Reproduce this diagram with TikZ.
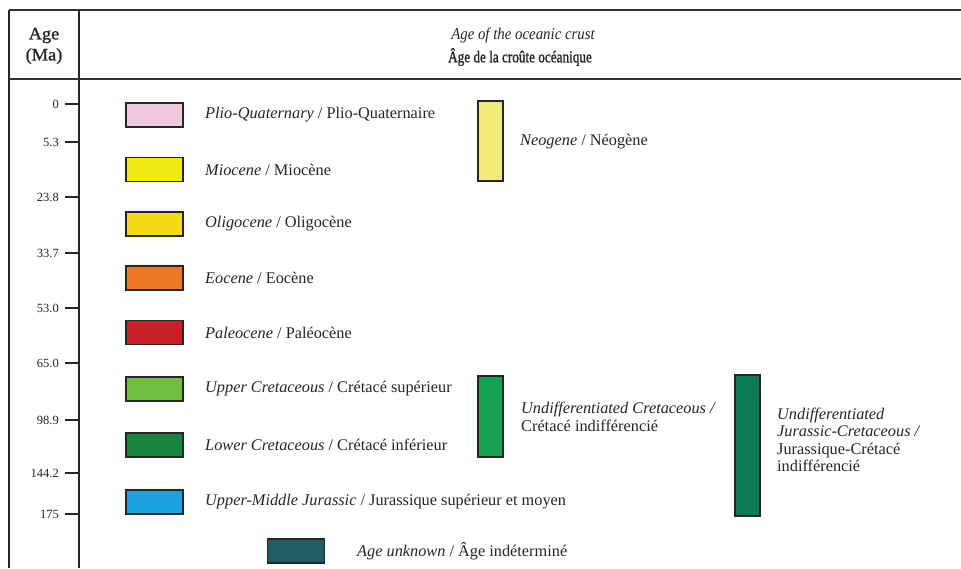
\documentclass[tikz,border=0pt]{standalone}
\usepackage{fontspec}
\setmainfont{Liberation Serif}
\begin{document}
\begin{tikzpicture}[x=1pt,y=-1pt,
  frame/.style={draw=black!85, line width=1.5pt},
  hline/.style={draw=black!80, line width=2pt},
  tickline/.style={draw=black!85, line width=1.1pt},
  ticklabel/.style={anchor=east, font=\fontsize{12.5}{13}\selectfont, text=black!85, inner sep=0pt},
  swatch/.style={draw=black!85, line width=1.1pt, minimum width=57pt, minimum height=24pt, inner sep=0pt},
  bar/.style={draw=black!85, line width=1.1pt, minimum width=25pt, inner sep=0pt},
  lab/.style={anchor=west, font=\fontsize{16.3}{17}\selectfont, text=black!85, inner sep=0pt},
  mlab/.style={anchor=west, align=left, font=\fontsize{16.3}{17.5}\selectfont, text=black!85, inner sep=0pt},
  agehead/.style={align=center, font=\fontsize{17.5}{21}\selectfont\addfontfeature{FakeBold=1.2,FakeStretch=1.05}, text=black!85, inner sep=0pt},
  head/.style={align=center, text=black!85, inner sep=0pt}]
\definecolor{cPQ}{RGB}{242,200,222}
\definecolor{cMio}{RGB}{242,232,20}
\definecolor{cOli}{RGB}{246,218,22}
\definecolor{cEoc}{RGB}{238,120,40}
\definecolor{cPal}{RGB}{200,32,42}
\definecolor{cUC}{RGB}{112,190,62}
\definecolor{cLC}{RGB}{22,130,62}
\definecolor{cJur}{RGB}{30,162,222}
\definecolor{cNeo}{RGB}{240,234,120}
\definecolor{cUCr}{RGB}{22,160,82}
\definecolor{cJC}{RGB}{12,122,82}
\definecolor{cUnk}{RGB}{32,92,100}
\useasboundingbox (0,0) rectangle (961,568);
\fill[white] (0,0) rectangle (961,568);
% frame
\draw[hline] (9,10) -- (961,10);
\draw[hline] (9,79) -- (961,79);
\draw[frame] (9,10) -- (9,568);
\draw[frame] (79,10) -- (79,568);
% header
\node[agehead] (hAge) at (44,46) {Age\\(Ma)};
\node[head, font=\fontsize{16.5}{16}\selectfont\itshape\addfontfeature{FakeStretch=0.9}] (hTitle1) at (523,35) {Age of the oceanic crust};
\node[head, font=\fontsize{16.5}{16}\selectfont\addfontfeature{FakeBold=1.2,FakeStretch=0.8}] (hTitle2) at (520,57) {Âge de la croûte océanique};
% ticks
\foreach \v/\yy/\nm in {0/104/t0, 5.3/142/t1, 23.8/197/t2, 33.7/253/t3, 53.0/308/t4, 65.0/363/t5, 98.9/420/t6, 144.2/473/t7, 175/514/t8}{
  \coordinate (\nm a) at (65,\yy);
  \coordinate (\nm b) at (79,\yy);
  \draw[tickline] (\nm a) -- (\nm b);
  \node[ticklabel] (\nm l) at (59,\yy) {\v};
}
% swatches
\node[swatch, fill=cPQ] (sPQ) at (154.5,115) {};
\node[swatch, fill=cMio] (sMio) at (154.5,169.5) {};
\node[swatch, fill=cOli] (sOli) at (154.5,224) {};
\node[swatch, fill=cEoc] (sEoc) at (154.5,278) {};
\node[swatch, fill=cPal] (sPal) at (154.5,332.5) {};
\node[swatch, fill=cUC] (sUC) at (154.5,389) {};
\node[swatch, fill=cLC] (sLC) at (154.5,445) {};
\node[swatch, fill=cJur] (sJur) at (154.5,502) {};
\node[swatch, fill=cUnk] (sUnk) at (296,551) {};
% labels
\node[lab] (lPQ) at (205,115) {\textit{Plio-Quaternary} / Plio-Quaternaire};
\node[lab] (lMio) at (205,169.5) {\textit{Miocene} / Miocène};
\node[lab] (lOli) at (205,224) {\textit{Oligocene} / Oligocène};
\node[lab] (lEoc) at (205,278) {\textit{Eocene} / Eocène};
\node[lab] (lPal) at (205,332.5) {\textit{Paleocene} / Paléocène};
\node[lab] (lUC) at (205,389) {\textit{Upper Cretaceous} / Crétacé supérieur};
\node[lab] (lLC) at (205,445) {\textit{Lower Cretaceous} / Crétacé inférieur};
\node[lab] (lJur) at (205,502) {\textit{Upper-Middle Jurassic} / Jurassique supérieur et moyen};
\node[lab] (lUnk) at (357,551) {\textit{Age unknown} / Âge indéterminé};
% bars
\node[bar, fill=cNeo, minimum height=80pt] (bNeo) at (490.5,141) {};
\node[lab] (lNeo) at (520,142) {\textit{Neogene} / Néogène};
\node[bar, fill=cUCr, minimum height=81pt] (bUCr) at (490.5,416.5) {};
\node[mlab] (lUCr) at (521,417) {\textit{Undifferentiated Cretaceous /}\\Crétacé indifférencié};
\node[bar, fill=cJC, minimum height=141pt] (bJC) at (747.5,445.5) {};
\node[mlab] (lJC) at (777,440) {\textit{Undifferentiated}\\\textit{Jurassic-Cretaceous /}\\Jurassique-Crétacé\\indifférencié};
\end{tikzpicture}
\end{document}
